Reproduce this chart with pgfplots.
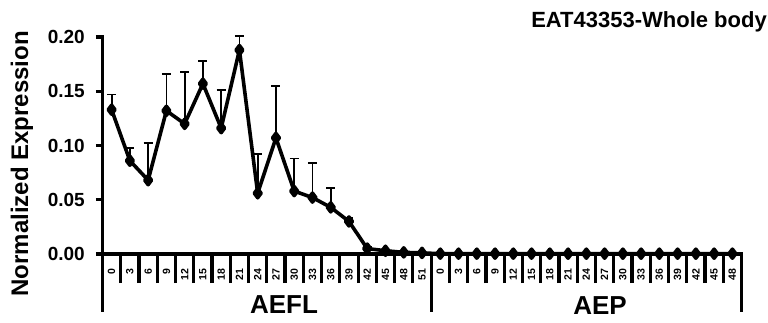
\documentclass[border=0pt]{standalone}
\usepackage{fontspec}
\setmainfont{Liberation Sans}
\usepackage{pgfplots}
\pgfplotsset{compat=1.18}
\usepackage{pgfplotstable}
\pgfplotstableread{
x y err
0 0.133 0.014
1 0.086 0.012
2 0.068 0.034
3 0.132 0.034
4 0.120 0.048
5 0.157 0.021
6 0.116 0.035
7 0.188 0.013
8 0.056 0.036
9 0.107 0.048
10 0.058 0.030
11 0.052 0.032
12 0.043 0.018
13 0.030 0.003
14 0.005 0.002
15 0.003 0.001
16 0.0015 0
17 0.001 0
18 0.0003 0
19 0.0003 0
20 0.0003 0
21 0.0003 0
22 0.0003 0
23 0.0003 0
24 0.0003 0
25 0.0003 0
26 0.0003 0
27 0.0003 0
28 0.0003 0
29 0.0003 0
30 0.0003 0
31 0.0003 0
32 0.0003 0
33 0.0003 0
34 0.0003 0
}\datatable
\begin{document}
\begin{tikzpicture}
\path[use as bounding box] (0,0) rectangle (768pt,323pt);
\begin{axis}[
  at={(102.5pt,69pt)}, anchor=south west,
  scale only axis, width=639pt, height=217pt,
  xmin=-0.5, xmax=34.5, ymin=0, ymax=0.20,
  clip=false,
  axis lines=left,
  axis line style={-, line width=3.2pt, line cap=rect},
  tick align=outside,
  major tick length=6.5pt,
  ytick={0,0.05,0.1,0.15,0.2},
  yticklabel style={/pgf/number format/fixed, /pgf/number format/fixed zerofill, /pgf/number format/precision=2, /pgf/number format/assume math mode=true},
  yticklabel style={font=\fontsize{19}{19}\selectfont\bfseries, inner sep=0pt, anchor=east},
  yticklabel shift=11pt,
  every major y tick/.append style={line width=3.2pt, black},
  xtick=data,
  xticklabels={0,3,6,9,12,15,18,21,24,27,30,33,36,39,42,45,48,51,0,3,6,9,12,15,18,21,24,27,30,33,36,39,42,45,48},
  xticklabel style={font=\fontsize{10.5}{10.5}\selectfont\bfseries, rotate=90, anchor=east, inner sep=0pt},
  xticklabel shift=8pt,
  every major x tick/.append style={draw=none},
  minor xtick={-0.5,0.5,...,34.5},
  minor tick length=29pt,
  every minor x tick/.append style={line width=3.2pt, black},
  ylabel={\bfseries Normalized Expression},
  ylabel style={font=\fontsize{24}{24}\selectfont, at={(axis description cs:-0.126,0.415)}, anchor=center},
]
\addplot[black, line width=3.6pt, line join=round, mark=diamond*, mark size=4.5pt,
  error bars/.cd, y dir=plus, y explicit,
  error bar style={line width=1.8pt},
  error mark options={mark size=4.5pt, line width=1.8pt, rotate=90}]
  table[x=x, y=y, y error=err] {\datatable};
\draw[line width=3.2pt] (axis cs:-0.5,0) -- ++(0pt,-58pt);
\draw[line width=3.2pt] (axis cs:17.5,0) -- ++(0pt,-58pt);
\draw[line width=3.2pt] (axis cs:34.5,0) -- ++(0pt,-58pt);
\end{axis}
\node[anchor=base, font=\fontsize{26}{26}\selectfont\bfseries, inner sep=0pt] at (284pt,9pt) {AEFL};
\node[anchor=base, font=\fontsize{26}{26}\selectfont\bfseries, inner sep=0pt] at (600pt,8pt) {AEP};
\node[anchor=base east, font=\fontsize{22}{22}\selectfont\bfseries, inner sep=0pt] at (767pt,295pt) {EAT43353-Whole body};
\end{tikzpicture}
\end{document}
